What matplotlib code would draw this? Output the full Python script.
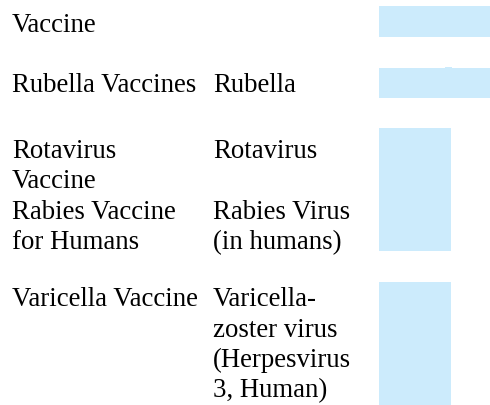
import matplotlib
matplotlib.use("Agg")
import matplotlib.pyplot as plt
from matplotlib.patches import Rectangle

# ---- data (table content) ----
vaccines = ["Vaccine", "Rubella Vaccines", "Rotavirus\nVaccine\nRabies Vaccine\nfor Humans", "Varicella Vaccine"]
viruses = ["", "Rubella", "Rotavirus\n\nRabies Virus\n(in humans)", "Varicella-\nzoster virus\n(Herpesvirus\n3, Human)"]

# ---- layout ----
W, H = 490, 406
fig = plt.figure(figsize=(W / 100, H / 100), dpi=100)
ax = fig.add_axes([0, 0, 1, 1])
ax.set_xlim(0, W)
ax.set_ylim(H, 0)
ax.axis("off")

fontsize = 19.3
family = ["Liberation Serif", "DejaVu Serif"]
line_h = 30.3
row_baselines = [32, 92, 158, 306.5]
col_x = [12, 213]

box_color = "#CCEBFC"
boxes = [(379, 7, 111, 31), (379, 69, 111, 30), (379, 129, 72, 123), (379, 283, 72, 123)]
for (x, y, w, h) in boxes:
    ax.add_patch(Rectangle((x, y), w, h, facecolor=box_color, edgecolor="none"))
ax.add_patch(Rectangle((445, 67.7), 7, 1.5, facecolor=box_color, edgecolor="none"))

for r, base in enumerate(row_baselines):
    for c, col in enumerate([vaccines, viruses]):
        for i, line in enumerate(col[r].split("\n")):
            if line:
                ax.text(col_x[c], base + i * line_h, line, fontsize=fontsize,
                        family=family, va="baseline", ha="left", color="#000000")

fig.savefig("out.png", dpi=100)
